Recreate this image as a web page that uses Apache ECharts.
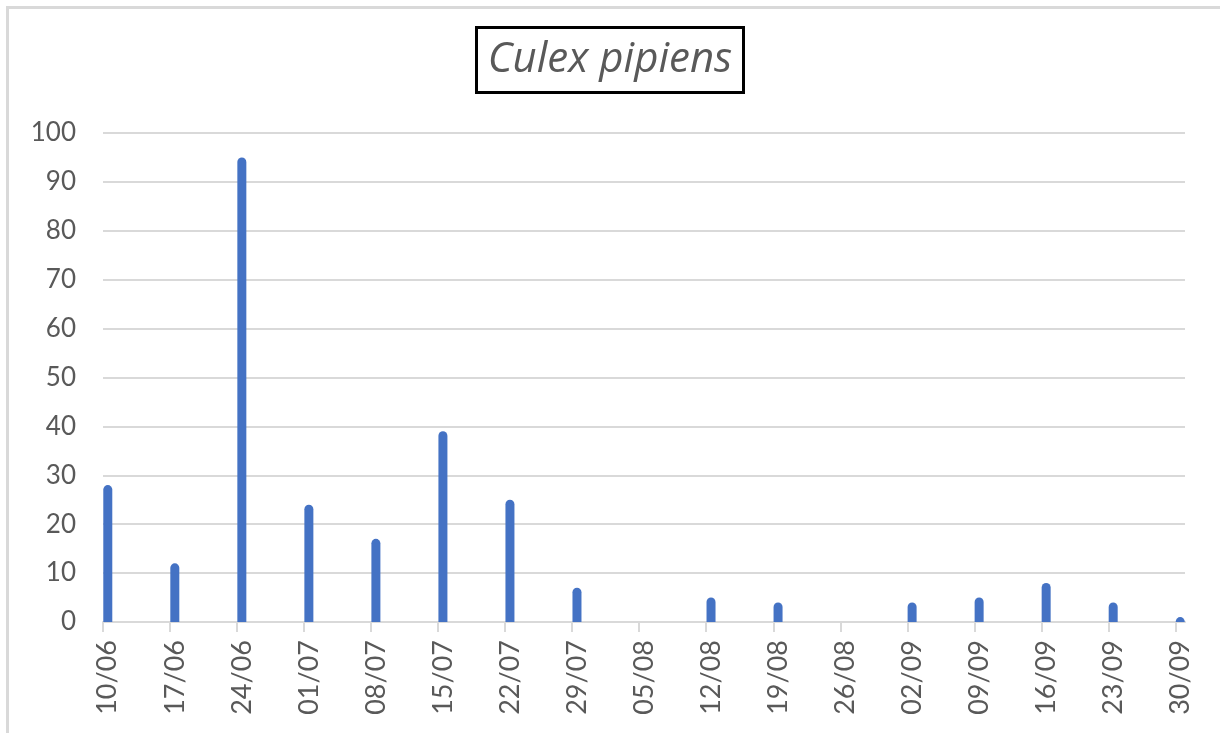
<!DOCTYPE html>
<html>
<head>
<meta charset="utf-8">
<title>Culex pipiens</title>
<script src="https://cdn.jsdelivr.net/npm/echarts@6/dist/echarts.min.js"></script>
<style>
  html, body { margin: 0; padding: 0; background: #fff; }
  #chart { width: 1220px; height: 733px; }
</style>
</head>
<body>
<div id="chart"></div>
<script>
// weekly trap dates and counts (05/08 and 26/08: nothing caught)
var dates = ['10/06', '17/06', '24/06', '01/07', '08/07', '15/07', '22/07', '29/07', '05/08',
  '12/08', '19/08', '26/08', '02/09', '09/09', '16/09', '23/09', '30/09']
var counts = [28, 12, 95, 24, 17, 39, 25, 7, 0, 5, 4, 0, 4, 5, 8, 4, 1]
var yTicks = [0, 10, 20, 30, 40, 50, 60, 70, 80, 90, 100]

// the x axis is a day axis: one slot per day, one week between dates
var DAYS_PER_WEEK = 7
var barData = counts.map(function (c, i) { return [i * DAYS_PER_WEEK + 0.5, c] })
var tickDays = dates.map(function (d, i) { return i * DAYS_PER_WEEK })
var labelDays = dates.map(function (d, i) { return i * DAYS_PER_WEEK + 0.5 })

var grey = '#595959'
var lineGrey = '#d9d9d9'
var font = 'Lato, "Open Sans", sans-serif'

var myChart = echarts.init(document.getElementById('chart'))
var option = {
  backgroundColor: '#fff',
  animation: false,
  title: {
    text: 'Culex pipiens',
    left: 'center',
    top: 27,
    padding: [9, 12, 9, 12],
    borderColor: '#000',
    borderWidth: 3,
    backgroundColor: '#fff',
    textStyle: {
      fontFamily: '"Open Sans", sans-serif',
      fontStyle: 'italic',
      fontWeight: 'normal',
      fontSize: 42,
      lineHeight: 48,
      color: grey
    }
  },
  graphic: [{
    type: 'polyline',
    shape: { points: [[7.5, 733], [7.5, 7.5], [1220, 7.5]] },
    style: { stroke: lineGrey, lineWidth: 3, fill: null },
    silent: true
  }],
  grid: { left: 103, right: 35, top: 133, bottom: 111, containLabel: false },
  xAxis: {
    type: 'value',
    min: 0,
    max: dates.length * DAYS_PER_WEEK - DAYS_PER_WEEK + 1,
    splitLine: { show: false },
    axisLine: { show: true, lineStyle: { color: lineGrey, width: 2 } },
    axisTick: { show: true, length: 10, lineStyle: { color: lineGrey, width: 2 }, customValues: tickDays },
    axisLabel: {
      customValues: labelDays,
      rotate: 90,
      margin: 18,
      fontFamily: font,
      fontSize: 27,
      color: grey,
      formatter: function (v) {
        return dates[Math.round((v - 0.5) / DAYS_PER_WEEK)]
      }
    }
  },
  yAxis: {
    type: 'value',
    min: yTicks[0],
    max: yTicks[yTicks.length - 1],
    interval: 10,
    axisLine: { show: false },
    axisTick: { show: false },
    splitLine: { lineStyle: { color: lineGrey, width: 2 } },
    axisLabel: { margin: 27, fontFamily: font, fontSize: 26, color: grey }
  },
  series: [{
    type: 'bar',
    data: barData,
    barWidth: 9,
    itemStyle: { color: '#4472c4', borderRadius: [4.5, 4.5, 0, 0] }
  }]
}
option && myChart.setOption(option)
</script>
</body>
</html>
